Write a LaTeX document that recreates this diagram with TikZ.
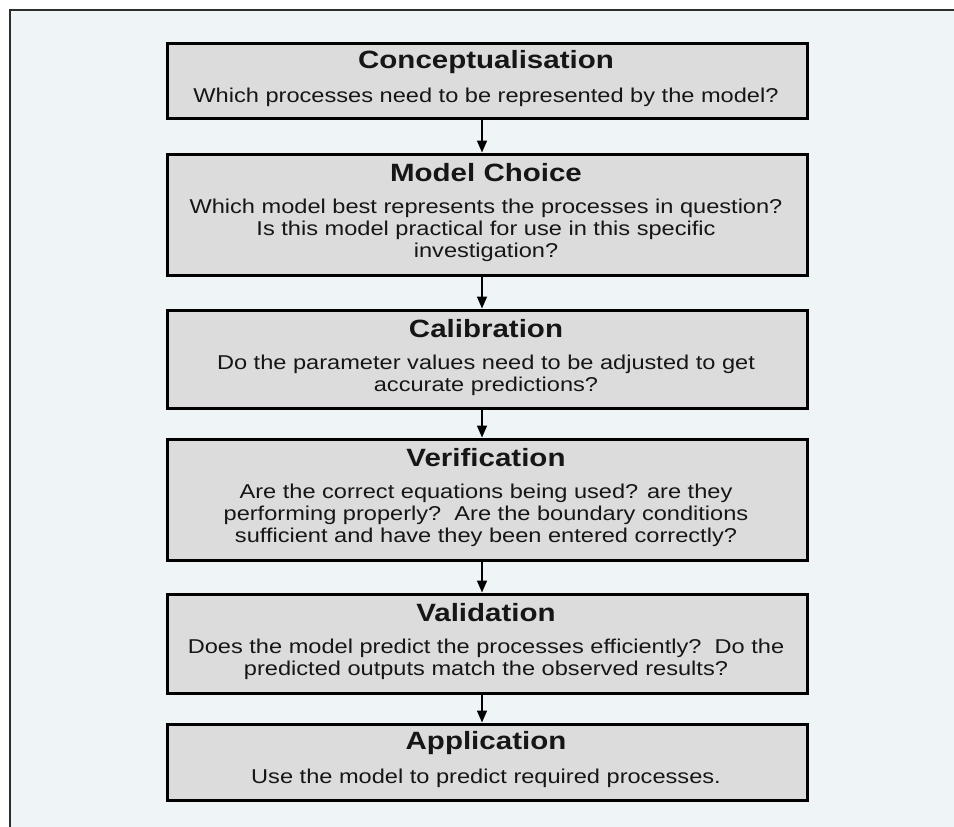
\documentclass[tikz,border=0pt]{standalone}
\usepackage{fontspec}
\setmainfont{Liberation Sans}[FakeStretch=1.18]
\usetikzlibrary{arrows.meta}
\definecolor{bgcol}{RGB}{239,245,247}
\definecolor{boxfill}{RGB}{220,220,220}
\definecolor{ink}{RGB}{22,22,22}
\definecolor{framecol}{RGB}{45,45,45}
\begin{document}
\begin{tikzpicture}[x=1pt,y=-1pt,
  stage/.style={rectangle, draw=black, line width=2.6pt, fill=boxfill,
    minimum width=640pt, inner sep=0pt, anchor=north west},
  ttl/.style={font=\fontsize{25}{29}\selectfont\bfseries, text=ink, inner sep=0pt},
  bodytext/.style={font=\fontsize{20}{22}\selectfont, text=ink, align=center, inner sep=0pt},
  arr/.style={draw=black, line width=1.7pt, -{Triangle[length=12pt,width=10pt]}, shorten >=0.5pt},
  framestyle/.style={draw=framecol, line width=2pt}]
\useasboundingbox (0,0) rectangle (954,827);
\fill[white] (0,0) rectangle (954,827);
\fill[bgcol] (10,10) rectangle (954,827);
\draw[framestyle] (954,10) -- (10,10) -- (10,827);
\coordinate (ax) at (482,0);

\node[stage, minimum height=75pt] (b1) at (166,42) {};
\node[ttl] (t1) at (486,62) {Conceptualisation};
\node[bodytext] (d1) at (486,97) {Which processes need to be represented by the model?};

\node[stage, minimum height=121pt] (b2) at (166,153) {};
\node[ttl] (t2) at (486,173) {Model Choice};
\node[bodytext] (d2) at (486,230) {Which model best represents the processes in question?\\Is this model practical for use in this specific\\investigation?};

\node[stage, minimum height=98pt] (b3) at (166,309) {};
\node[ttl] (t3) at (486,329) {Calibration};
\node[bodytext] (d3) at (486,375) {Do the parameter values need to be adjusted to get\\accurate predictions?};

\node[stage, minimum height=121pt] (b4) at (166,438) {};
\node[ttl] (t4) at (486,458) {Verification};
\node[bodytext] (d4) at (486,515) {Are the correct equations being used? are they\\performing properly?\ \ Are the boundary conditions\\sufficient and have they been entered correctly?};

\node[stage, minimum height=99pt] (b5) at (166,593) {};
\node[ttl] (t5) at (486,613) {Validation};
\node[bodytext] (d5) at (486,659) {Does the model predict the processes efficiently?\ \ Do the\\predicted outputs match the observed results?};

\node[stage, minimum height=76pt] (b6) at (166,723) {};
\node[ttl] (t6) at (486,743) {Application};
\node[bodytext] (d6) at (486,778) {Use the model to predict required processes.};

\draw[arr] (b1.south -| ax) -- (b2.north -| ax);
\draw[arr] (b2.south -| ax) -- (b3.north -| ax);
\draw[arr] (b3.south -| ax) -- (b4.north -| ax);
\draw[arr] (b4.south -| ax) -- (b5.north -| ax);
\draw[arr] (b5.south -| ax) -- (b6.north -| ax);
\end{tikzpicture}
\end{document}
